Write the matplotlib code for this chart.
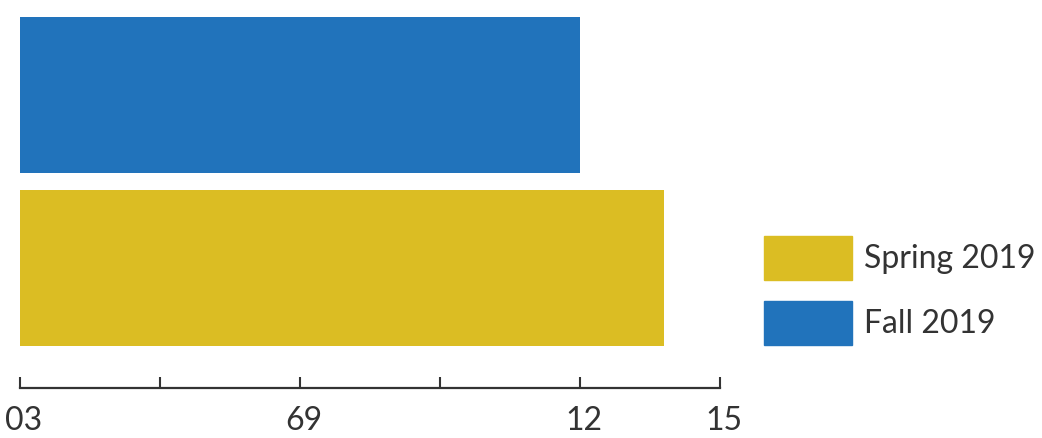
import matplotlib
matplotlib.use("Agg")
import matplotlib.pyplot as plt
from matplotlib.patches import Rectangle
from matplotlib.transforms import ScaledTranslation

# Data
terms = ["Spring 2019", "Fall 2019"]
values = [13.8, 12.0]
colors = ["#dbbd23", "#2173bb"]
tick_values = [0, 3, 6, 9, 12, 15]
tick_labels = ["03", "", "69", "", "12", "15"]

TEXT = "#333333"
FONT = "Lato"

W, H = 1042, 438
fig = plt.figure(figsize=(W / 100, H / 100), dpi=100)
ax = fig.add_axes([20 / W, 50 / H, 700 / W, 388 / H])

ypos = list(range(len(terms)))
ax.barh(ypos, values, height=0.9, color=colors)

ax.set_xlim(0, 15)
ax.set_ylim(-0.694, 1.549)

for s in ("top", "right", "left"):
    ax.spines[s].set_visible(False)
ax.spines["bottom"].set_linewidth(1.6)
ax.spines["bottom"].set_color(TEXT)
ax.set_yticks([])
ax.set_xticks(tick_values)
ax.set_xticklabels(tick_labels, fontfamily=FONT, fontsize=23, color=TEXT)
ax.tick_params(axis="x", direction="in", length=8, width=1.5,
               color=TEXT, pad=13)
shift = ScaledTranslation(4 / 100, 0, fig.dpi_scale_trans)
for lbl in ax.get_xticklabels():
    lbl.set_transform(lbl.get_transform() + shift)

# Legend drawn in figure pixels
legend_rows = [(236, terms[0], colors[0]), (301, terms[1], colors[1])]
for top, label, col in legend_rows:
    fig.patches.append(Rectangle((764 / W, 1 - (top + 44) / H), 88 / W, 44 / H,
                                 transform=fig.transFigure, color=col))
    fig.text(864 / W, 1 - (top + 23) / H, label, fontfamily=FONT,
             fontsize=23, color=TEXT, va="center", ha="left")

fig.savefig("out.png", dpi=100)
